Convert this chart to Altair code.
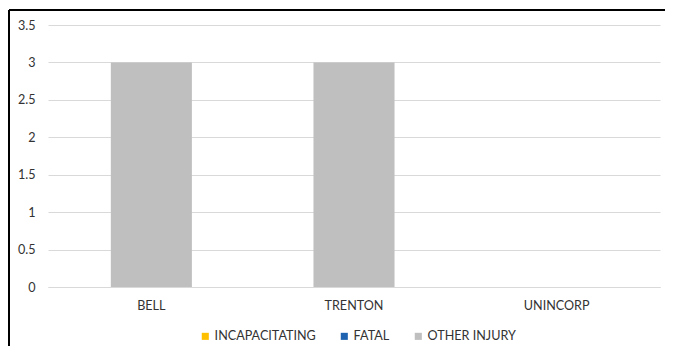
import altair as alt
import pandas as pd

categories = ["BELL", "TRENTON", "UNINCORP"]
series = ["INCAPACITATING", "FATAL", "OTHER INJURY"]
incapacitating = [0, 0, 0]
fatal = [0, 0, 0]
other_injury = [3, 3, 0]
colors = ["#FFC000", "#1F63B0", "#BFBFBF"]
y_ticks = [0, 0.5, 1, 1.5, 2, 2.5, 3, 3.5]
title_text = "CITY"

rows = []
for i, c in enumerate(categories):
    for s, vals in zip(series, [incapacitating, fatal, other_injury]):
        rows.append({"category": c, "series": s, "value": vals[i], "order": series.index(s)})
df = pd.DataFrame(rows)

FONT = "Lato"
FS = 12.6
W, H = 612, 262

bars = alt.Chart(df).mark_bar().encode(
    x=alt.X("category:N", sort=categories,
            scale=alt.Scale(paddingInner=0.6, paddingOuter=0.31),
            axis=alt.Axis(title=None, labelAngle=0, ticks=False, domain=True, grid=False,
                          domainColor="#D9D9D9", labelPadding=12,
                          labelFont=FONT, labelFontSize=FS, labelColor="#333333")),
    y=alt.Y("sum(value):Q", stack="zero",
            scale=alt.Scale(domain=[0, 3.5], nice=False),
            axis=alt.Axis(title=None, values=y_ticks, labelExpr="datum.value",
                          ticks=False, domain=False, gridColor="#D9D9D9",
                          labelPadding=13, labelFont=FONT, labelFontSize=FS,
                          labelColor="#333333")),
    color=alt.Color("series:N", sort=series,
                    scale=alt.Scale(domain=series, range=colors),
                    legend=alt.Legend(title=None, orient="none", direction="horizontal",
                                      legendX=151, legendY=305, symbolType="square",
                                      symbolSize=50, symbolStrokeWidth=0,
                                      labelFont=FONT, labelFontSize=FS,
                                      labelColor="#333333", columnPadding=22,
                                      labelOffset=3)),
    order=alt.Order("order:Q"),
)

border_left = alt.Chart(pd.DataFrame({"k": [0]})).mark_rule(color="black", strokeWidth=2).encode(
    x=alt.value(-39), y=alt.value(-15), y2=alt.value(H + 60)
)
border_top = alt.Chart(pd.DataFrame({"k": [0]})).mark_rule(color="black", strokeWidth=2).encode(
    x=alt.value(-39), x2=alt.value(W + 10), y=alt.value(-15)
)
title = alt.Chart(pd.DataFrame({"t": [title_text]})).mark_text(
    font=FONT, fontSize=24, fontWeight="bold", color="#404040", baseline="bottom", align="center"
).encode(x=alt.value(287), y=alt.value(-16), text="t:N")

chart = alt.layer(bars, border_left, border_top, title).properties(
    width=W, height=H,
    background="white",
    autosize=alt.AutoSizeParams(type="none"),
    padding={"left": 40, "top": 17, "right": 5, "bottom": 59},
).configure_view(strokeWidth=0, stroke="transparent")

chart.save("out.html", embed_options={"renderer": "svg", "actions": False})
